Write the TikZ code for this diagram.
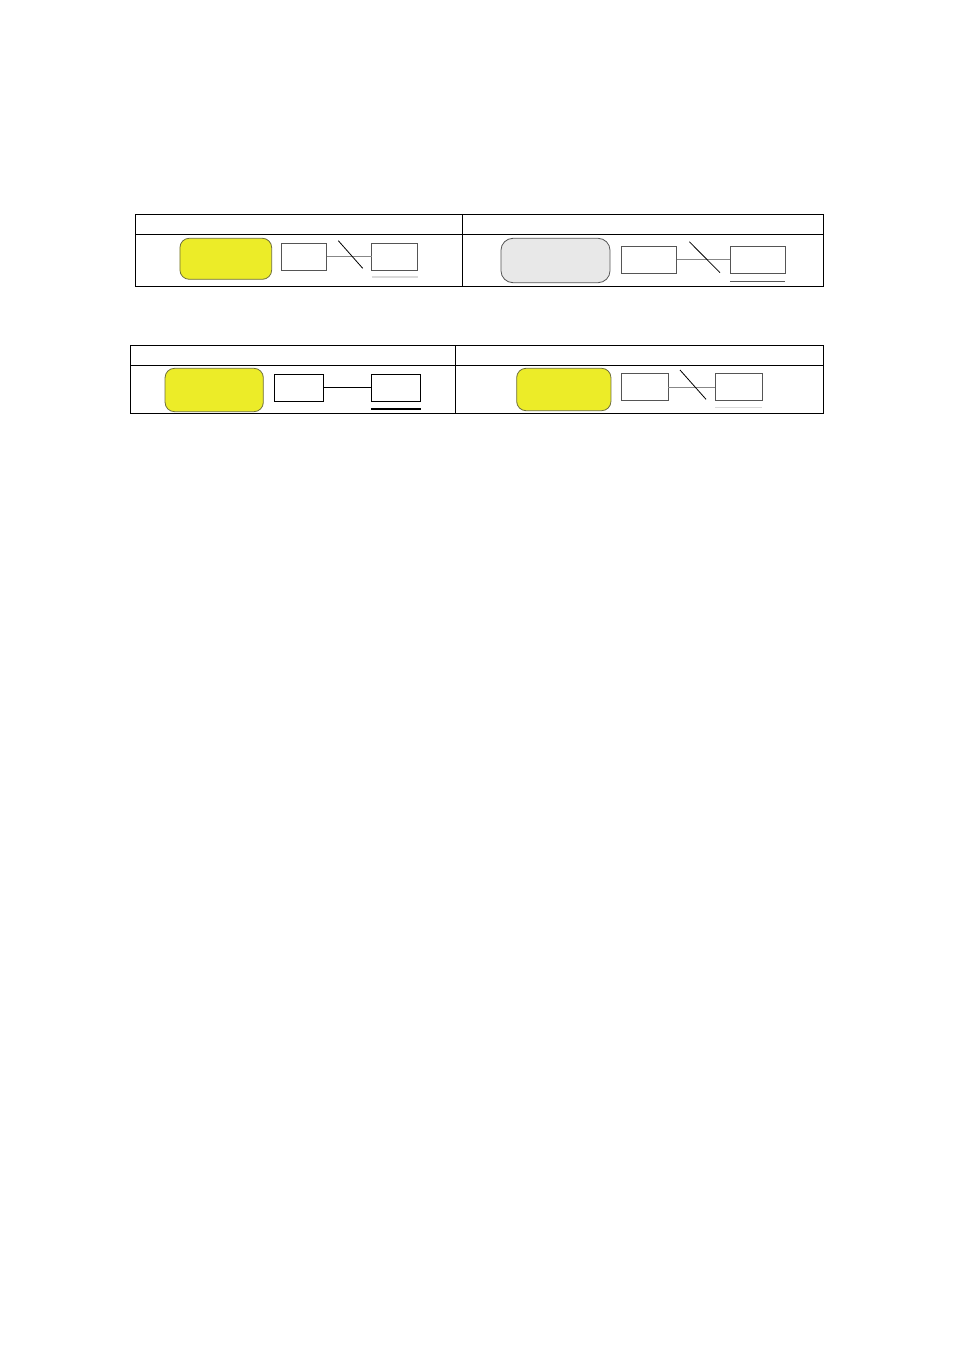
\documentclass[tikz,border=0pt]{standalone}
\usepackage{xcolor}
\usetikzlibrary{arrows,positioning,shapes}

\definecolor{hiyellow}{RGB}{236,236,40}
\definecolor{yellowedge}{RGB}{110,110,60}
\definecolor{lightfill}{RGB}{232,232,232}
\definecolor{boxedge}{RGB}{85,85,85}
\definecolor{linkgray}{RGB}{135,135,135}
\definecolor{underlight}{RGB}{218,218,218}

\begin{document}
\begin{tikzpicture}[
            x = 0.75pt, y = -0.75pt, % pixel grid, y downwards
            line width = 0.75pt, % line style
            node distance = 1cm
        ]

        \tikzstyle{every node}=[inner sep = 0pt, outer sep = 0pt]
        \tikzstyle{entity}=[
            draw = boxedge,
            fill = white,
            rectangle,
            line width = 0.6pt,
            minimum height = 20pt
        ]
        \tikzstyle{pill}=[
            rectangle,
            rounded corners = 7pt,
            line width = 0.6pt
        ]

        \useasboundingbox (0,0) rectangle (954,1355);

        % Tables
        \draw (135,215) rectangle (823,286);
        \draw (135,235) -- (823,235);
        \draw (462,215) -- (462,286);
        \draw (130,345) rectangle (823,413);
        \draw (130,365) -- (823,365);
        \draw (455,345) -- (455,413);

        % Blocks
        \node[pill, draw = yellowedge, fill = hiyellow, minimum width = 68.8pt, minimum height = 30.8pt] (y1) [at={(225.8,258.8)}] {};
        \node[entity, minimum width = 34.3pt] (a) [at={(303.8,256.7)}] {};
        \node[entity, minimum width = 34.5pt] (b) [at={(394.7,256.7)}] {};
        \node[pill, draw = boxedge, fill = lightfill, minimum width = 81.8pt, minimum height = 33.3pt, rounded corners = 9pt] (g1) [at={(555.5,260.5)}] {};
        \node[entity, minimum width = 41.3pt, minimum height = 20.5pt] (c) [at={(649.2,259.7)}] {};
        \node[entity, minimum width = 41.3pt, minimum height = 20.5pt] (d) [at={(757.5,259.7)}] {};
        \node[pill, draw = yellowedge, fill = hiyellow, minimum width = 73.7pt, minimum height = 32.5pt] (y2) [at={(214.2,390)}] {};
        \node[entity, draw = black, minimum width = 37pt, minimum height = 20.8pt] (e) [at={(299,387.8)}] {};
        \node[entity, draw = black, minimum width = 37.2pt, minimum height = 20.8pt] (f) [at={(395.8,387.8)}] {};
        \node[pill, draw = yellowedge, fill = hiyellow, minimum width = 70.7pt, minimum height = 31.8pt] (y3) [at={(563.8,389.5)}] {};
        \node[entity, minimum width = 35.5pt, minimum height = 20.5pt] (h) [at={(644.7,387)}] {};
        \node[entity, minimum width = 35.5pt, minimum height = 20.5pt] (i) [at={(738.7,387)}] {};

        % Slashes
        \coordinate (s1a) at (338.3,240.7);
        \coordinate (s1b) at (362.7,268.3);
        \coordinate (s2a) at (689.3,241.7);
        \coordinate (s2b) at (720,272.7);
        \coordinate (s3a) at (680,370);
        \coordinate (s3b) at (706,399.3);

        \path[-, draw = linkgray, line width = 0.6pt] (a) edge node {} (b);
        \path[-, draw = linkgray, line width = 0.6pt] (c) edge node {} (d);
        \path[-, draw = black, line width = 0.6pt] (e) edge node {} (f);
        \path[-, draw = linkgray, line width = 0.6pt] (h) edge node {} (i);
        \path[-, draw = black, line width = 0.6pt] (s1a) edge node {} (s1b);
        \path[-, draw = black, line width = 0.6pt] (s2a) edge node {} (s2b);
        \path[-, draw = black, line width = 0.6pt] (s3a) edge node {} (s3b);

        % Underlines
        \draw[underlight, line width = 1.2pt] ([yshift=-5pt]b.south west) -- ([yshift=-5pt]b.south east);
        \draw[boxedge, line width = 0.8pt] ([yshift=-6.3pt]d.south west) -- ([yshift=-6.3pt]d.south east);
        \draw[black, line width = 0.8pt] ([yshift=-5.5pt]f.south west) -- ([yshift=-5.5pt]f.south east);
        \draw[underlight, line width = 1.2pt] ([yshift=-5.2pt]i.south west) -- ([yshift=-5.2pt]i.south east);
      \end{tikzpicture}
\end{document}
